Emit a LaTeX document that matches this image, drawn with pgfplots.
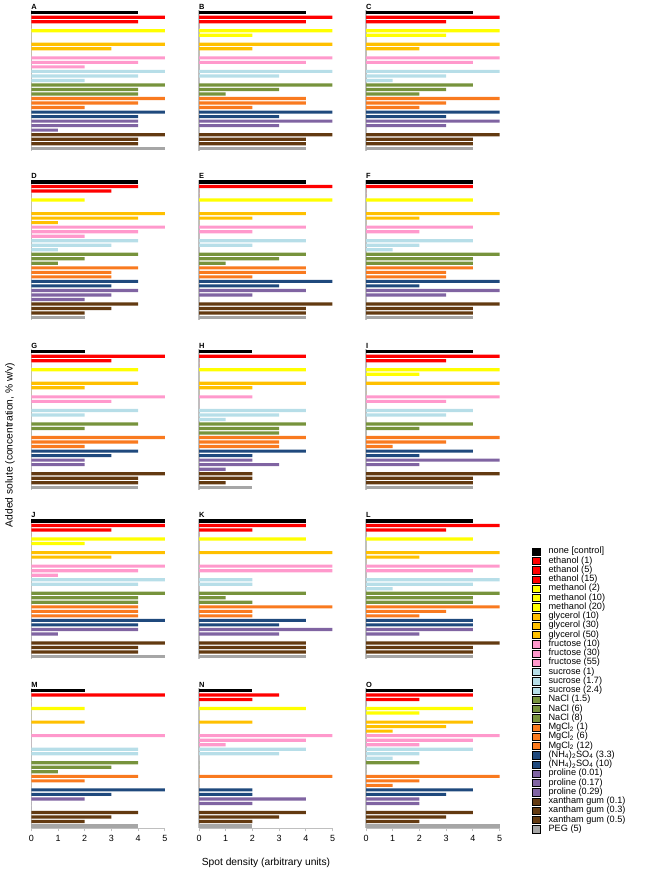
\documentclass[border=0pt]{standalone}
\usepackage{pgfplots}
\pgfplotsset{compat=1.18}
\usepackage{pgfplotstable}
\usepackage{fontspec}
\setmainfont{Liberation Sans}

\definecolor{cNone}{HTML}{000000}
\definecolor{cEth}{HTML}{FF0000}
\definecolor{cMeth}{HTML}{FFFF00}
\definecolor{cGly}{HTML}{FFC000}
\definecolor{cFru}{HTML}{FF99CC}
\definecolor{cSuc}{HTML}{B7DEE8}
\definecolor{cNaCl}{HTML}{77933C}
\definecolor{cMg}{HTML}{F97A1F}
\definecolor{cNH}{HTML}{1F497D}
\definecolor{cPro}{HTML}{8064A2}
\definecolor{cXg}{HTML}{633A11}
\definecolor{cPEG}{HTML}{A6A6A6}
\definecolor{axgray}{HTML}{BFBFBF}

% spot density per panel, rows = solutes in legend order
\pgfplotstableread{
i  A B C D E F G H I J K L M N O
0  4 4 4 4 4 4 2 2 4 5 4 4 2 2 4
1  5 5 5 4 5 4 5 4 5 5 4 5 5 3 4
2  4 4 3 3 0 0 3 0 3 3 2 3 0 2 2
3  0 0 0 0 0 0 0 0 0 0 0 0 0 0 0
4  5 5 5 2 5 4 4 4 5 5 4 4 2 4 4
5  0 2 3 0 0 0 0 0 2 2 0 0 0 0 2
6  0 0 0 0 0 0 0 0 0 0 0 0 0 0 0
7  5 5 5 5 4 5 4 4 5 5 5 5 2 2 4
8  3 2 2 4 2 2 2 2 0 3 0 2 0 0 3
9  0 0 0 1 0 0 0 0 0 0 0 0 0 0 1
10 5 5 5 5 4 4 5 2 5 5 5 5 5 5 5
11 4 4 4 4 2 2 3 0 3 4 5 4 0 4 4
12 2 0 0 2 0 0 0 0 0 1 0 0 0 1 2
13 5 5 5 4 4 4 4 4 4 5 2 5 4 4 4
14 4 3 3 3 2 2 2 3 3 4 2 4 4 3 2
15 2 0 1 1 0 1 0 1 0 0 0 1 0 0 1
16 5 5 4 4 4 5 4 4 4 5 4 5 4 0 2
17 4 3 3 2 3 4 2 3 2 4 1 4 3 0 0
18 4 1 2 1 1 4 0 3 0 4 2 4 1 0 0
19 5 4 5 4 4 4 5 4 5 4 5 5 4 5 5
20 4 4 3 3 4 3 4 3 3 4 2 3 2 0 2
21 2 2 2 3 2 3 2 3 1 4 2 2 0 0 1
22 5 5 5 4 5 5 4 4 4 5 4 4 5 2 4
23 4 3 3 3 3 2 3 2 2 4 3 4 3 2 3
24 4 5 5 4 4 5 2 2 5 4 5 4 2 4 2
25 4 3 3 3 2 3 2 3 2 1 3 2 0 2 2
26 1 0 0 2 0 0 0 1 0 0 0 0 0 0 0
27 5 5 5 4 5 5 5 2 5 5 4 5 4 4 4
28 4 4 4 3 4 4 4 2 4 4 4 4 3 3 3
29 4 4 4 2 4 4 4 1 4 4 4 4 2 2 2
30 5 4 4 2 4 4 4 2 4 5 4 4 4 2 5
}\data

\pgfplotsset{
  panel/.style={
    scale only axis, width=133.5bp, height=140.1bp, anchor=north west,
    xmin=0, xmax=5, ymin=-0.5, ymax=30.5, y dir=reverse,
    axis y line*=left, ytick=\empty,
    axis line style={draw=axgray, line width=1.2bp},
    clip=false,
  },
  toprow/.style={axis x line=none, xtick=\empty},
  bottomrow/.style={
    axis x line*=bottom, xtick={0,...,5},
    xtick align=outside, major tick length=3bp,
    tick style={draw=axgray, line width=0.8bp},
    /pgf/number format/assume math mode=true,
    ticklabel style={font=\fontsize{9}{9}\selectfont},
  },
  sbar/.style={xbar, bar shift=0pt, bar width=0.7, draw=none, fill=#1},
}

\newcommand\panel[5]{%
  \begin{axis}[panel, at={(#2,#3)}, #5]
    \addplot[sbar=cNone, restrict y to domain=-0.5:0.5] table[x=#1,y=i]{\data};
    \addplot[sbar=cEth, restrict y to domain=0.5:3.5] table[x=#1,y=i]{\data};
    \addplot[sbar=cMeth, restrict y to domain=3.5:6.5] table[x=#1,y=i]{\data};
    \addplot[sbar=cGly, restrict y to domain=6.5:9.5] table[x=#1,y=i]{\data};
    \addplot[sbar=cFru, restrict y to domain=9.5:12.5] table[x=#1,y=i]{\data};
    \addplot[sbar=cSuc, restrict y to domain=12.5:15.5] table[x=#1,y=i]{\data};
    \addplot[sbar=cNaCl, restrict y to domain=15.5:18.5] table[x=#1,y=i]{\data};
    \addplot[sbar=cMg, restrict y to domain=18.5:21.5] table[x=#1,y=i]{\data};
    \addplot[sbar=cNH, restrict y to domain=21.5:23.5] table[x=#1,y=i]{\data};
    \addplot[sbar=cPro, restrict y to domain=23.5:26.5] table[x=#1,y=i]{\data};
    \addplot[sbar=cXg, restrict y to domain=26.5:29.5] table[x=#1,y=i]{\data};
    \addplot[sbar=cPEG, restrict y to domain=29.5:30.5] table[x=#1,y=i]{\data};
    \node[anchor=south west, inner sep=0pt, yshift=0.8bp,
      font=\bfseries\fontsize{7.5}{7.5}\selectfont]
      at (axis description cs:0,1) {#4};
  \end{axis}%
}

\begin{document}
\begin{tikzpicture}
\path[use as bounding box] (0,0) rectangle (653bp,-884bp);

\panel{A}{31.3bp}{-10.4bp}{A}{toprow}
\panel{B}{199bp}{-10.4bp}{B}{toprow}
\panel{C}{366bp}{-10.4bp}{C}{toprow}
\panel{D}{31.3bp}{-179.7bp}{D}{toprow}
\panel{E}{199bp}{-179.7bp}{E}{toprow}
\panel{F}{366bp}{-179.7bp}{F}{toprow}
\panel{G}{31.3bp}{-349.4bp}{G}{toprow}
\panel{H}{199bp}{-349.4bp}{H}{toprow}
\panel{I}{366bp}{-349.4bp}{I}{toprow}
\panel{J}{31.3bp}{-518.7bp}{J}{toprow}
\panel{K}{199bp}{-518.7bp}{K}{toprow}
\panel{L}{366bp}{-518.7bp}{L}{toprow}
\panel{M}{31.3bp}{-688.2bp}{M}{bottomrow}
\panel{N}{199bp}{-688.2bp}{N}{bottomrow}
\panel{O}{366bp}{-688.2bp}{O}{bottomrow}

\node[rotate=90, font=\fontsize{10.3}{10.3}\selectfont] at (10bp,-445bp)
  {Added solute (concentration, \% w/v)};
\node[font=\fontsize{10.3}{10.3}\selectfont] at (266bp,-863bp)
  {Spot density (arbitrary units)};

% legend only (no data)
\begin{axis}[
  at={(532bp,-547bp)}, anchor=north west, scale only axis,
  width=10bp, height=10bp, hide axis, xmin=0, xmax=1, ymin=0, ymax=1,
  legend cell align=left,
  legend image code/.code={\fill[#1] (0bp,-3.6bp) rectangle (7.6bp,3.6bp);},
  legend style={at={(0,1)}, anchor=north west, draw=none, fill=none,
    inner sep=0pt, row sep=0.45bp,
    font=\fontsize{9.2}{9.2}\selectfont,
    nodes={inner sep=0.4bp, text height=6.3bp, text depth=1.7bp},
    /tikz/every odd column/.append style={column sep=8bp}},
]
\addlegendimage{fill=cNone}\addlegendentry{none [control]}
\addlegendimage{fill=cEth}\addlegendentry{ethanol (1)}
\addlegendimage{fill=cEth}\addlegendentry{ethanol (5)}
\addlegendimage{fill=cEth}\addlegendentry{ethanol (15)}
\addlegendimage{fill=cMeth}\addlegendentry{methanol (2)}
\addlegendimage{fill=cMeth}\addlegendentry{methanol (10)}
\addlegendimage{fill=cMeth}\addlegendentry{methanol (20)}
\addlegendimage{fill=cGly}\addlegendentry{glycerol (10)}
\addlegendimage{fill=cGly}\addlegendentry{glycerol (30)}
\addlegendimage{fill=cGly}\addlegendentry{glycerol (50)}
\addlegendimage{fill=cFru}\addlegendentry{fructose (10)}
\addlegendimage{fill=cFru}\addlegendentry{fructose (30)}
\addlegendimage{fill=cFru}\addlegendentry{fructose (55)}
\addlegendimage{fill=cSuc}\addlegendentry{sucrose (1)}
\addlegendimage{fill=cSuc}\addlegendentry{sucrose (1.7)}
\addlegendimage{fill=cSuc}\addlegendentry{sucrose (2.4)}
\addlegendimage{fill=cNaCl}\addlegendentry{NaCl (1.5)}
\addlegendimage{fill=cNaCl}\addlegendentry{NaCl (6)}
\addlegendimage{fill=cNaCl}\addlegendentry{NaCl (8)}
\addlegendimage{fill=cMg}\addlegendentry{MgCl\textsubscript{2} (1)}
\addlegendimage{fill=cMg}\addlegendentry{MgCl\textsubscript{2} (6)}
\addlegendimage{fill=cMg}\addlegendentry{MgCl\textsubscript{2} (12)}
\addlegendimage{fill=cNH}\addlegendentry{(NH\textsubscript{4})\textsubscript{2}SO\textsubscript{4} (3.3)}
\addlegendimage{fill=cNH}\addlegendentry{(NH\textsubscript{4})\textsubscript{2}SO\textsubscript{4} (10)}
\addlegendimage{fill=cPro}\addlegendentry{proline (0.01)}
\addlegendimage{fill=cPro}\addlegendentry{proline (0.17)}
\addlegendimage{fill=cPro}\addlegendentry{proline (0.29)}
\addlegendimage{fill=cXg}\addlegendentry{xantham gum (0.1)}
\addlegendimage{fill=cXg}\addlegendentry{xantham gum (0.3)}
\addlegendimage{fill=cXg}\addlegendentry{xantham gum (0.5)}
\addlegendimage{fill=cPEG}\addlegendentry{PEG (5)}
\end{axis}
\end{tikzpicture}
\end{document}
